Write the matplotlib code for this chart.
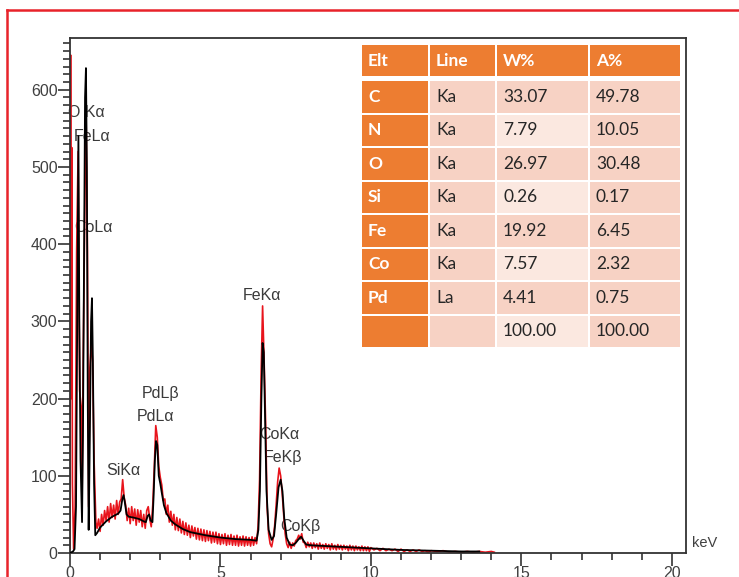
import numpy as np
import matplotlib as mpl
import matplotlib.pyplot as plt
from matplotlib.patches import Rectangle
from matplotlib.lines import Line2D
from matplotlib.ticker import MultipleLocator

mpl.rcParams['font.family'] = ['Liberation Sans Narrow', 'Liberation Sans', 'DejaVu Sans']

# fitted spectrum (black)
fit_kev = [0.00, 0.10, 0.15, 0.20, 0.24, 0.28, 0.31, 0.35, 0.40, 0.43, 0.47, 0.50,
           0.53, 0.56, 0.59, 0.62, 0.65, 0.70, 0.73, 0.76, 0.80, 0.84, 0.90, 1.00,
           1.10, 1.20, 1.30, 1.40, 1.50, 1.60, 1.68, 1.74, 1.78, 1.82, 1.88, 1.95,
           2.10, 2.30, 2.45, 2.52, 2.58, 2.63, 2.68, 2.74, 2.78, 2.82, 2.86, 2.90,
           2.95, 3.00, 3.05, 3.12, 3.20, 3.35, 3.50, 3.75, 4.00, 4.50, 5.00, 5.50,
           6.00, 6.20, 6.26, 6.31, 6.36, 6.40, 6.44, 6.48, 6.53, 6.60, 6.70, 6.78,
           6.85, 6.93, 7.00, 7.06, 7.12, 7.20, 7.30, 7.40, 7.50, 7.60, 7.68, 7.76,
           7.85, 8.00, 8.50, 9.00, 9.50, 10.00, 11.00, 12.00, 13.00, 13.60]
fit_counts = [0, 2, 5, 60, 300, 540, 300, 120, 40, 150, 400, 590,
              628, 500, 200, 30, 120, 300, 330, 250, 90, 23, 26, 33,
              37, 41, 44, 47, 49, 51, 55, 70, 75, 66, 50, 47,
              46, 44, 41, 40, 48, 50, 42, 40, 75, 120, 145, 140,
              100, 90, 78, 62, 52, 42, 37, 31, 27, 23, 20, 18,
              17, 16, 30, 80, 200, 272, 260, 180, 80, 30, 17, 22,
              50, 85, 95, 80, 45, 20, 11, 10, 13, 18, 21, 16,
              11, 10, 9, 8, 7, 6, 4, 3, 2, 2]

# raw counts (red), low-energy part
raw_kev_low = [0.00, 0.02, 0.04, 0.06, 0.08, 0.12, 0.17, 0.22, 0.27, 0.32, 0.37, 0.40,
               0.43, 0.48, 0.53, 0.58, 0.62, 0.66, 0.71, 0.75, 0.80, 0.86, 0.90, 0.95]
raw_counts_low = [5, 645, 200, 525, 90, 5, 60, 390, 520, 210, 190, 60,
                  220, 400, 585, 390, 60, 240, 270, 250, 120, 40, 32, 44]

# raw counts, 1.00 - 9.95 keV in 0.05 keV channels
raw_counts_mid = [
    28, 50, 36, 55, 42, 60, 40, 64, 46, 62, 44, 68, 50, 66, 70, 95, 72, 62, 42, 58,
    38, 60, 42, 57, 36, 56, 40, 55, 34, 50, 32, 55, 60, 44, 34, 62, 110, 165, 150, 112,
    98, 88, 68, 70, 50, 62, 40, 54, 36, 50, 30, 46, 29, 44, 26, 41, 24, 39, 23, 36,
    20, 35, 22, 33, 18, 32, 17, 31, 16, 30, 15, 29, 16, 28, 13, 27, 14, 27, 12, 25,
    11, 24, 12, 25, 10, 23, 11, 24, 10, 22, 10, 23, 9, 21, 10, 22, 9, 21, 10, 20,
    9, 21, 10, 20, 12, 35, 95, 230, 320, 250, 170, 60, 25, 12, 8, 18, 35, 62, 92, 110,
    100, 78, 50, 25, 12, 7, 14, 6, 13, 9, 16, 18, 23, 18, 25, 14, 13, 7, 14, 8,
    13, 6, 13, 7, 12, 5, 13, 6, 11, 5, 12, 6, 11, 4, 12, 5, 10, 4, 11, 5,
    10, 4, 10, 5, 9, 3, 10, 4, 9, 3, 9, 4, 8, 3, 9, 3, 8, 3, 8, 2,
]

# raw counts, high-energy tail
raw_kev_tail = [10.0, 10.1, 10.2, 10.3, 10.4, 10.5, 10.6, 10.7, 10.8, 10.9, 11.0,
                11.1, 11.2, 11.3, 11.4, 11.5, 11.6, 11.7, 11.8, 11.9, 12.0,
                12.2, 12.4, 12.6, 12.8, 13.0, 13.2, 13.4, 13.6, 13.8, 14.0, 14.1]
raw_counts_tail = [7, 4, 6, 3, 6, 3, 5, 3, 5, 2, 5,
                   2, 4, 2, 4, 2, 4, 2, 3, 1, 3,
                   2, 3, 1, 2, 1, 2, 1, 2, 1, 2, 1]

# peak labels
peak_names = ['O K\u03b1', 'FeL\u03b1', 'CoL\u03b1', 'SiK\u03b1', 'PdL\u03b2', 'PdL\u03b1',
              'FeK\u03b1', 'CoK\u03b1', 'FeK\u03b2', 'CoK\u03b2']
peak_kev = [-0.07, 0.13, 0.13, 1.20, 2.39, 2.23, 5.75, 6.28, 6.45, 6.98]
peak_y = [570, 539, 422, 107, 207, 177, 333, 154, 124, 34]

# quantification table
tbl_header = ['Elt', 'Line', 'W%', 'A%']
tbl_elt = ['C', 'N', 'O', 'Si', 'Fe', 'Co', 'Pd', '']
tbl_line = ['Ka', 'Ka', 'Ka', 'Ka', 'Ka', 'Ka', 'La', '']
tbl_w = ['33.07', '7.79', '26.97', '0.26', '19.92', '7.57', '4.41', '100.00']
tbl_a = ['49.78', '10.05', '30.48', '0.17', '6.45', '2.32', '0.75', '100.00']

raw_kev = np.concatenate([raw_kev_low,
                          1.0 + 0.05 * np.arange(len(raw_counts_mid)),
                          raw_kev_tail])
raw_counts = np.concatenate([raw_counts_low, raw_counts_mid, raw_counts_tail])

W, H = 739, 577
fig = plt.figure(figsize=(W / 100, H / 100), dpi=100)
ax = fig.add_axes([70 / W, 1 - 553 / H, (686 - 70) / W, (553 - 38) / H])

ax.plot(raw_kev, raw_counts, color='#e8141c', lw=1.2, zorder=2)
ax.plot(fit_kev, fit_counts, color='black', lw=1.3, zorder=3)

for name, xk, yc in zip(peak_names, peak_kev, peak_y):
    ax.text(xk, yc, name, fontsize=11.5, color='#3a3a3a', ha='left', va='center',
            zorder=1, clip_on=False)

ax.set_xlim(0, 20.47)
ax.set_ylim(0, 667)
ax.xaxis.set_major_locator(MultipleLocator(5))
ax.xaxis.set_minor_locator(MultipleLocator(1))
ax.yaxis.set_major_locator(MultipleLocator(100))
ax.yaxis.set_minor_locator(MultipleLocator(10))
ax.tick_params(which='major', direction='out', length=9, width=1.2, color='#333333',
               labelsize=11.5, labelcolor='#404040', pad=0)
ax.tick_params(which='minor', direction='out', length=5, width=1.2, color='#333333')
for sp in ax.spines.values():
    sp.set_linewidth(1.3)
    sp.set_color('#333333')

fig.text(692 / W, 1 - 543 / H, 'keV', fontsize=10.5, color='#404040', va='center')

# red outer frame
fig.add_artist(Line2D([7 / W, 1], [1 - 10 / H, 1 - 10 / H], color='#e8232a', lw=1.8))
fig.add_artist(Line2D([7 / W, 7 / W], [0, 1 - 10 / H], color='#e8232a', lw=1.8))

# table drawn in pixel coordinates on its own axes
tab = fig.add_axes([362 / W, 1 - 348 / H, (680 - 362) / W, (348 - 44) / H])
tab.set_xlim(362, 680)
tab.set_ylim(348, 44)
tab.axis('off')

orange = '#ed7d31'
pink = '#f7d2c4'
light = '#fbe8e0'
col_edges = [(362, 428), (430, 495), (497, 588), (590, 680)]
header_top, header_bot = 45, 76
row_top, row_h = 80, 33.5

for (x0, x1), label in zip(col_edges, tbl_header):
    tab.add_patch(Rectangle((x0, header_top), x1 - x0, header_bot - header_top,
                            facecolor=orange, edgecolor='none'))
    tab.text(x0 + 6, (header_top + header_bot) / 2, label, fontsize=12.5,
             family='Lato', weight='bold', color='white', va='center')

for i in range(len(tbl_elt)):
    y0 = row_top + i * row_h
    cells = [tbl_elt[i], tbl_line[i], tbl_w[i], tbl_a[i]]
    fills = [orange, pink, pink if i % 2 == 0 else light, pink]
    for j, ((x0, x1), txt) in enumerate(zip(col_edges, cells)):
        tab.add_patch(Rectangle((x0, y0 + 1), x1 - x0, row_h - 2,
                                facecolor=fills[j], edgecolor='none'))
        if j == 0:
            tab.text(x0 + 6, y0 + row_h / 2, txt, fontsize=12.5, family='Lato',
                     weight='bold', color='white', va='center')
        else:
            tab.text(x0 + 6, y0 + row_h / 2, txt, fontsize=12.5, family='Lato',
                     color='#262626', va='center')

fig.savefig('out.png', dpi=100)
